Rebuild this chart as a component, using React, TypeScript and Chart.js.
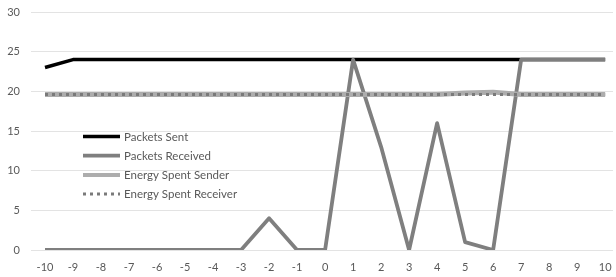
import React, { useEffect, useRef } from 'react';
import { Chart, registerables } from 'chart.js';

Chart.register(...registerables);

const xValues = [-10, -9, -8, -7, -6, -5, -4, -3, -2, -1, 0, 1, 2, 3, 4, 5, 6, 7, 8, 9, 10];
const yTickValues = [0, 5, 10, 15, 20, 25, 30];
const packetsSent = [23, 24, 24, 24, 24, 24, 24, 24, 24, 24, 24, 24, 24, 24, 24, 24, 24, 24, 24, 24, 24];
const packetsReceived = [0, 0, 0, 0, 0, 0, 0, 0, 4, 0, 0, 24, 13, 0, 16, 1, 0, 24, 24, 24, 24];
const energySender = [19.6, 19.6, 19.6, 19.6, 19.6, 19.6, 19.6, 19.6, 19.6, 19.6, 19.6, 19.6, 19.6, 19.6, 19.6, 19.8, 19.9, 19.6, 19.6, 19.6, 19.6];
const energyReceiver = [19.6, 19.6, 19.6, 19.6, 19.6, 19.6, 19.6, 19.6, 19.6, 19.6, 19.6, 19.6, 19.6, 19.6, 19.6, 19.6, 19.6, 19.6, 19.6, 19.6, 19.6];
const seriesLabels = ['Packets Sent', 'Packets Received', 'Energy Spent Sender', 'Energy Spent Receiver'];

const FONT = 'Lato, "Open Sans", sans-serif';
const TEXT_COLOR = '#595959';

const toPoints = (vals: number[]) => xValues.map((x, i) => ({ x, y: vals[i] }));

const insideLegend = {
  id: 'insideLegend',
  afterDraw(chart: any) {
    const ctx = chart.ctx as CanvasRenderingContext2D;
    const area = chart.chartArea;
    ctx.save();
    ctx.font = `11.5px ${FONT}`;
    ctx.textBaseline = 'middle';
    ctx.textAlign = 'left';
    chart.data.datasets.forEach((ds: any, i: number) => {
      const y = area.top + 124.5 + i * 19.2;
      const x0 = area.left + 52;
      ctx.strokeStyle = ds.borderColor;
      ctx.lineWidth = ds.legendWidth || ds.borderWidth;
      ctx.setLineDash(ds.borderDash || []);
      ctx.lineCap = 'butt';
      ctx.beginPath();
      ctx.moveTo(x0, y);
      ctx.lineTo(x0 + 37, y);
      ctx.stroke();
      ctx.setLineDash([]);
      ctx.fillStyle = TEXT_COLOR;
      ctx.fillText(ds.label, x0 + 41, y + 0.5);
    });
    ctx.restore();
  },
};

export default function App() {
  const ref = useRef<HTMLCanvasElement | null>(null);

  useEffect(() => {
    document.body.style.margin = '0';
    const canvas = ref.current;
    if (!canvas) return;
    const chart = new Chart(canvas, {
      type: 'line',
      data: {
        datasets: [
          {
            label: seriesLabels[0],
            data: toPoints(packetsSent),
            borderColor: '#000000',
            borderWidth: 3.5,
            pointRadius: 0,
            order: 4,
          },
          {
            label: seriesLabels[1],
            data: toPoints(packetsReceived),
            borderColor: '#7f7f7f',
            borderWidth: 3.8,
            pointRadius: 0,
            order: 3,
          },
          {
            label: seriesLabels[2],
            data: toPoints(energySender),
            borderColor: '#adadad',
            borderWidth: 5,
            legendWidth: 4,
            pointRadius: 0,
            order: 2,
          },
          {
            label: seriesLabels[3],
            data: toPoints(energyReceiver),
            borderColor: '#7a7a7a',
            borderWidth: 3,
            borderDash: [3, 4],
            pointRadius: 0,
            order: 1,
          },
        ] as any,
      },
      plugins: [insideLegend],
      options: {
        responsive: false,
        animation: false,
        layout: { padding: { top: 12, right: 3, left: 0, bottom: 0 } },
        plugins: {
          legend: { display: false },
          tooltip: { enabled: false },
        },
        elements: { line: { tension: 0, borderJoinStyle: 'round' } },
        scales: {
          x: {
            type: 'linear',
            min: -10.5,
            max: 10.28,
            afterBuildTicks: (scale: any) => {
              scale.ticks = xValues.map((v) => ({ value: v }));
            },
            afterFit: (scale: any) => {
              scale.height = 27;
              scale.paddingLeft = 0;
              scale.paddingRight = 0;
            },
            grid: { display: false, drawTicks: false },
            border: { display: false },
            ticks: {
              autoSkip: false,
              maxRotation: 0,
              padding: 11,
              color: TEXT_COLOR,
              font: { family: FONT, size: 11 },
            },
          },
          y: {
            min: 0,
            max: 30,
            afterBuildTicks: (scale: any) => {
              scale.ticks = yTickValues.map((v) => ({ value: v }));
            },
            afterFit: (scale: any) => {
              scale.width = 31;
              scale.paddingTop = 0;
              scale.paddingBottom = 0;
            },
            grid: { color: '#e3e3e3', lineWidth: 1, drawTicks: false },
            border: { display: false },
            ticks: {
              padding: 11,
              color: TEXT_COLOR,
              font: { family: FONT, size: 11 },
            },
          },
        },
      } as any,
    });
    return () => chart.destroy();
  }, []);

  return (
    <div style={{ width: 616, height: 277, background: '#ffffff' }}>
      <canvas ref={ref} width={616} height={277} style={{ display: 'block' }} />
    </div>
  );
}
